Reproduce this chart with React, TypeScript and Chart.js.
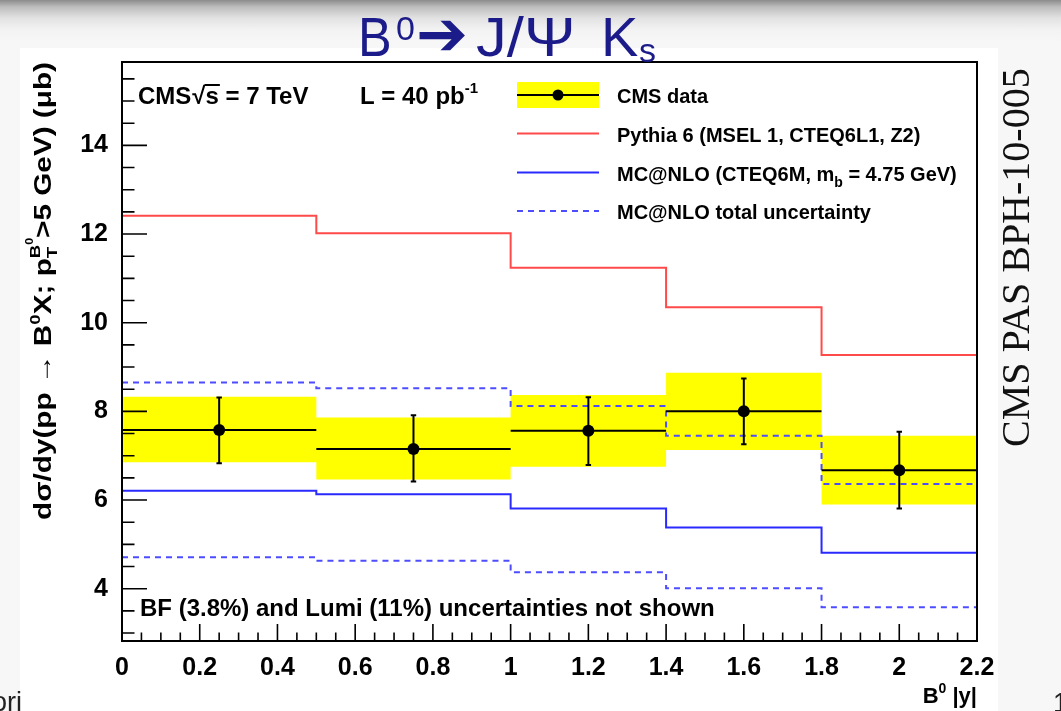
import React, { useEffect, useRef } from 'react';
import { Chart, registerables } from 'chart.js';

Chart.register(...registerables);

// ---------------- data ----------------
const binEdges = [0, 0.5, 1.0, 1.4, 1.8, 2.2];
const binCenters = [0.25, 0.75, 1.2, 1.6, 2.0];
const cmsData = [7.58, 7.15, 7.56, 8.0, 6.67];
const cmsErrUp = [0.73, 0.76, 0.76, 0.74, 0.87];
const cmsErrDown = [0.75, 0.73, 0.77, 0.74, 0.86];
const cmsBandHigh = [8.33, 7.86, 8.37, 8.87, 7.45];
const cmsBandLow = [6.85, 6.46, 6.75, 7.13, 5.9];
const pythia6 = [12.41, 12.02, 11.24, 10.35, 9.27];
const mcAtNlo = [6.21, 6.13, 5.81, 5.38, 4.81];
const mcAtNloHigh = [8.65, 8.52, 8.12, 7.45, 6.36];
const mcAtNloLow = [4.71, 4.63, 4.37, 4.01, 3.58];
const xTickValues = [0, 0.2, 0.4, 0.6, 0.8, 1.0, 1.2, 1.4, 1.6, 1.8, 2.0, 2.2];
const xTickLabels = ['0', '0.2', '0.4', '0.6', '0.8', '1', '1.2', '1.4', '1.6', '1.8', '2', '2.2'];
const yTickValues = [4, 6, 8, 10, 12, 14];
const yTickLabels = ['4', '6', '8', '10', '12', '14'];
const legendLabels = ['CMS data', 'Pythia 6 (MSEL 1, CTEQ6L1, Z2)', 'MC@NLO (CTEQ6M, m', 'MC@NLO total uncertainty'];

// ---------------- helpers ----------------
const SANS = '"Liberation Sans", Arial, Helvetica, sans-serif';
const RED = '#ff4a4a';
const BLUE = '#2a2aff';
const BLUE_D = '#4d4dff';
const CAP = 0.007;

const stepPoints = (vals: number[]) => [
  ...vals.map((v, i) => ({ x: binEdges[i], y: v })),
  { x: binEdges[binEdges.length - 1], y: vals[vals.length - 1] },
];
const binSegments = (vals: number[]) =>
  vals.flatMap((v, i) => [
    { x: binEdges[i], y: v },
    { x: binEdges[i + 1], y: v },
    { x: binEdges[i + 1], y: null as any },
  ]);
const errorSegments = () =>
  binCenters.flatMap((c, i) => {
    const hi = cmsData[i] + cmsErrUp[i];
    const lo = cmsData[i] - cmsErrDown[i];
    return [
      { x: c, y: hi }, { x: c, y: lo }, { x: c, y: null as any },
      { x: c - CAP, y: hi }, { x: c + CAP, y: hi }, { x: c, y: null as any },
      { x: c - CAP, y: lo }, { x: c + CAP, y: lo }, { x: c, y: null as any },
    ];
  });

type Seg = { t: string; size: number; dy?: number; save?: boolean; restore?: boolean; merge?: boolean; bold?: boolean };
function drawRich(ctx: CanvasRenderingContext2D, segs: Seg[], x: number, y: number, draw = true) {
  let cx = x, anchor = x, maxX = x;
  for (const s of segs) {
    if (s.save) anchor = cx;
    if (s.restore) { maxX = Math.max(maxX, cx); cx = anchor; }
    if (s.merge) { cx = Math.max(cx, maxX); }
    ctx.font = `${s.bold === false ? '' : 'bold '}${s.size}px ${SANS}`;
    if (draw) ctx.fillText(s.t, cx, y + (s.dy || 0));
    cx += ctx.measureText(s.t).width;
  }
  return Math.max(cx, maxX) - x;
}

const decor = {
  id: 'decor',
  afterDatasetsDraw(chart: any) {
    const { ctx, chartArea, scales } = chart;
    const { left, right, top, bottom } = chartArea;
    const x = scales.x, y = scales.y;
    ctx.save();
    ctx.strokeStyle = '#000';
    ctx.lineWidth = 1.6;
    ctx.beginPath();
    for (let v = 3.0; v <= 15.5 + 1e-9; v += 0.5) {
      const py = y.getPixelForValue(v);
      const len = v % 2 === 0 ? 25 : 12.5;
      ctx.moveTo(left, py);
      ctx.lineTo(left + len, py);
    }
    for (let k = 0; k <= 44; k++) {
      const px = x.getPixelForValue(k * 0.05);
      const len = k % 4 === 0 ? 17 : 8.5;
      ctx.moveTo(px, bottom);
      ctx.lineTo(px, bottom - len);
    }
    ctx.stroke();
    ctx.lineWidth = 2;
    ctx.strokeRect(left, top, right - left, bottom - top);
    ctx.restore();
  },
  afterDraw(chart: any) {
    const { ctx } = chart;
    ctx.save();
    ctx.fillStyle = '#000';
    ctx.textAlign = 'left';
    ctx.textBaseline = 'alphabetic';

    // CMS sqrt(s) label
    ctx.font = `bold 24px ${SANS}`;
    ctx.fillText('CMS', 138, 104);
    let cx = 138 + ctx.measureText('CMS').width + 1;
    ctx.fillText('\u221A', cx, 104);
    cx += ctx.measureText('\u221A').width;
    const sw = ctx.measureText('s').width;
    ctx.fillText('s', cx, 104);
    ctx.fillRect(cx - 1, 84, sw + 2, 2);
    cx += sw;
    ctx.fillText(' = 7 TeV', cx, 104);
    drawRich(ctx, [{ t: 'L = 40 pb', size: 24 }, { t: '-1', size: 15, dy: -11 }], 360, 104);

    // BF note
    ctx.font = `bold 24px ${SANS}`;
    ctx.fillText('BF (3.8%) and Lumi (11%) uncertainties not shown', 140, 616);

    // legend
    const lx0 = 517, lx1 = 599;
    ctx.fillStyle = '#ffff00';
    ctx.fillRect(lx0, 82, lx1 - lx0, 26);
    ctx.strokeStyle = '#000';
    ctx.lineWidth = 2;
    ctx.beginPath(); ctx.moveTo(lx0, 95); ctx.lineTo(lx1, 95); ctx.stroke();
    ctx.fillStyle = '#000';
    ctx.beginPath(); ctx.arc(558, 95, 5.5, 0, Math.PI * 2); ctx.fill();
    ctx.strokeStyle = RED;
    ctx.beginPath(); ctx.moveTo(lx0, 133.5); ctx.lineTo(lx1, 133.5); ctx.stroke();
    ctx.strokeStyle = BLUE;
    ctx.beginPath(); ctx.moveTo(lx0, 172.5); ctx.lineTo(lx1, 172.5); ctx.stroke();
    ctx.strokeStyle = BLUE_D;
    ctx.setLineDash([6, 5]);
    ctx.beginPath(); ctx.moveTo(lx0, 211); ctx.lineTo(lx1, 211); ctx.stroke();
    ctx.setLineDash([]);
    ctx.fillStyle = '#000';
    ctx.font = `bold 20px ${SANS}`;
    ctx.fillText(legendLabels[0], 617, 103);
    ctx.fillText(legendLabels[1], 617, 141.5);
    drawRich(ctx, [{ t: legendLabels[2], size: 20 }, { t: 'b', size: 14, dy: 6 }, { t: ' = 4.75 GeV)', size: 20 }], 617, 180.5);
    ctx.font = `bold 20px ${SANS}`;
    ctx.fillText(legendLabels[3], 617, 219);

    // x axis title
    const xt: Seg[] = [{ t: 'B', size: 22 }, { t: '0', size: 14, dy: -10 }, { t: ' |y|', size: 22 }];
    const xw = drawRich(ctx, xt, 0, 0, false);
    drawRich(ctx, xt, 977 - xw, 703);

    // y axis title
    const yt: Seg[] = [
      { t: 'd\u03C3/dy(pp \u2192 B', size: 24 },
      { t: '0', size: 15, dy: -11 },
      { t: 'X; p', size: 24 },
      { t: 'T', size: 15, dy: 6, save: true },
      { t: 'B', size: 15, dy: -11, restore: true },
      { t: '0', size: 10, dy: -18 },
      { t: '>5 GeV) (\u03BCb)', size: 24, merge: true },
    ];
    const yw = drawRich(ctx, yt, 0, 0, false);
    const L = 458;
    ctx.save();
    ctx.translate(51, 62);
    ctx.rotate(-Math.PI / 2);
    ctx.translate(-L, 0);
    ctx.scale(L / yw, 1);
    drawRich(ctx, yt, 0, 0);
    ctx.restore();

    // slide title
    ctx.fillStyle = '#1b1b8a';
    ctx.font = `56px ${SANS}`;
    ctx.save(); ctx.translate(358, 56); ctx.scale(0.9, 1); ctx.fillText('B', 0, 0); ctx.restore();
    ctx.font = `34px ${SANS}`;
    ctx.fillText('0', 396, 40);
    ctx.font = `62px "DejaVu Sans", ${SANS}`;
    ctx.fillText('\u2794', 416, 55);
    ctx.font = `56px ${SANS}`;
    ctx.save(); ctx.translate(476, 56); ctx.scale(1.1, 1); ctx.fillText('J/\u03A8', 0, 0); ctx.restore();
    ctx.fillText('K', 601, 56);
    ctx.font = `34px ${SANS}`;
    ctx.fillText('s', 639, 62);

    // side label
    ctx.fillStyle = '#111';
    ctx.font = `40px "Liberation Serif", "Times New Roman", serif`;
    ctx.save();
    ctx.translate(1029, 447);
    ctx.rotate(-Math.PI / 2);
    ctx.fillText('CMS PAS BPH-10-005', 0, 0);
    ctx.restore();

    // slide remnants
    ctx.fillStyle = '#222';
    ctx.font = `27px ${SANS}`;
    ctx.fillText('ori', -8, 711);
    ctx.fillText('1', 1053, 712);
    ctx.restore();
  },
};

export default function App() {
  const ref = useRef<HTMLCanvasElement>(null);
  useEffect(() => {
    const canvas = ref.current!;
    const lineBase = { pointRadius: 0, fill: false, borderWidth: 2 };
    const chart = new Chart(canvas, {
      type: 'line',
      data: {
        datasets: [
          { ...lineBase, label: 'band high', data: stepPoints(cmsBandHigh), stepped: true, borderWidth: 0, borderColor: 'rgba(0,0,0,0)', backgroundColor: '#ffff00', fill: '+1', order: 10 },
          { ...lineBase, label: 'band low', data: stepPoints(cmsBandLow), stepped: true, borderWidth: 0, borderColor: 'rgba(0,0,0,0)', order: 9 },
          { ...lineBase, label: 'MC@NLO high', data: stepPoints(mcAtNloHigh), stepped: true, borderColor: BLUE_D, borderDash: [6, 5], order: 6 },
          { ...lineBase, label: 'MC@NLO low', data: stepPoints(mcAtNloLow), stepped: true, borderColor: BLUE_D, borderDash: [6, 5], order: 6 },
          { ...lineBase, label: 'MC@NLO', data: stepPoints(mcAtNlo), stepped: true, borderColor: BLUE, order: 5 },
          { ...lineBase, label: 'Pythia 6', data: stepPoints(pythia6), stepped: true, borderColor: RED, order: 4 },
          { ...lineBase, label: 'CMS bins', data: binSegments(cmsData), borderColor: '#000', spanGaps: false, order: 3 },
          { ...lineBase, label: 'CMS errors', data: errorSegments(), borderColor: '#000', spanGaps: false, order: 2 },
          { label: 'CMS data', data: binCenters.map((c, i) => ({ x: c, y: cmsData[i] })), showLine: false, pointRadius: 6, pointBackgroundColor: '#000', pointBorderWidth: 0, borderColor: '#000', order: 1 },
        ] as any,
      },
      options: {
        responsive: false,
        animation: false,
        devicePixelRatio: 1,
        events: [],
        layout: { padding: { left: 0, top: 62, right: 84, bottom: 0 } },
        plugins: { legend: { display: false }, tooltip: { enabled: false }, title: { display: false } },
        scales: {
          x: {
            type: 'linear',
            min: 0,
            max: 2.2,
            afterBuildTicks: (s: any) => { s.ticks = xTickValues.map((v) => ({ value: v })); },
            afterFit: (s: any) => { s.height = 70; },
            grid: { display: false },
            border: { display: false },
            ticks: {
              callback: (_v: any, i: number) => xTickLabels[i],
              font: { family: SANS, size: 25, weight: 'bold' },
              color: '#000',
              padding: 4,
              maxRotation: 0,
              autoSkip: false,
            },
          },
          y: {
            type: 'linear',
            min: 2.82,
            max: 15.88,
            afterBuildTicks: (s: any) => { s.ticks = yTickValues.map((v) => ({ value: v })); },
            afterFit: (s: any) => { s.width = 122; },
            grid: { display: false },
            border: { display: false },
            ticks: {
              callback: (_v: any, i: number) => yTickLabels[i],
              font: { family: SANS, size: 25, weight: 'bold' },
              color: '#000',
              padding: 6,
              autoSkip: false,
            },
          },
        },
      } as any,
      plugins: [decor],
    });
    return () => chart.destroy();
  }, []);

  return (
    <div style={{ position: 'absolute', left: 0, top: 0, width: 1061, height: 711, overflow: 'hidden', background: '#f7f7f7' }}>
      <div
        style={{
          position: 'absolute', left: 0, top: 0, width: 1095, height: 42,
          background: 'linear-gradient(#8c8c8c 0px, #bdbdbd 7px, #e2e2e2 18px, #f3f3f3 30px, #f7f7f7 42px)',
          borderBottomRightRadius: 36,
        }}
      />
      <div style={{ position: 'absolute', left: 20, top: 48, width: 978, height: 663, background: '#ffffff' }} />
      <canvas ref={ref} width={1061} height={711} style={{ position: 'absolute', left: 0, top: 0, width: 1061, height: 711 }} />
    </div>
  );
}
